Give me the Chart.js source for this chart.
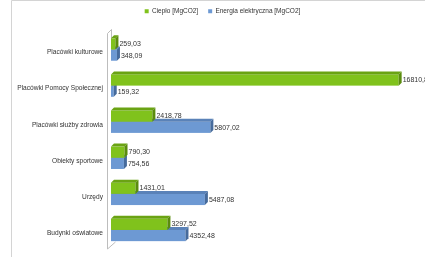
<!DOCTYPE html>
<html>
<head>
<meta charset="utf-8">
<script src="https://cdn.jsdelivr.net/npm/chart.js@4/dist/chart.umd.min.js"></script>
<style>
  html, body { margin: 0; padding: 0; background: #fff; }
  #wrap { width: 425px; height: 257px; position: relative; }
</style>
</head>
<body>
<div id="wrap"><canvas id="chart" width="425" height="257"></canvas></div>
<script>
const categories = ["Placówki kulturowe", "Placówki Pomocy Społecznej", "Placówki służby zdrowia", "Obiekty sportowe", "Urzędy", "Budynki oświatowe"];
const cieplo = [259.03, 16810.8, 2418.78, 790.30, 1431.01, 3297.52];
const energia = [348.09, 159.32, 5807.02, 754.56, 5487.08, 4352.48];
const cieploLabels = ["259,03", "16810,8", "2418,78", "790,30", "1431,01", "3297,52"];
const energiaLabels = ["348,09", "159,32", "5807,02", "754,56", "5487,08", "4352,48"];

const FONT = "Liberation Sans";
const DEPTH = 3;

// colours: front, top face, side face
const faces = [
  { front: "#80c21c", top: "#6aa313", side: "#5a8c0e" },
  { front: "#6d99d3", top: "#5a82b8", side: "#466b9c" }
];

function drawBar(ctx, el, c) {
  const top = el.y - el.height / 2;
  const bot = el.y + el.height / 2;
  const x0 = el.base, x1 = el.x;
  ctx.fillStyle = c.front;
  ctx.fillRect(x0, top, x1 - x0, bot - top);
  ctx.fillStyle = c.top;
  ctx.beginPath();
  ctx.moveTo(x0, top);
  ctx.lineTo(x0 + DEPTH, top - DEPTH);
  ctx.lineTo(x1 + DEPTH, top - DEPTH);
  ctx.lineTo(x1, top);
  ctx.closePath();
  ctx.fill();
  ctx.fillStyle = c.side;
  ctx.beginPath();
  ctx.moveTo(x1, top);
  ctx.lineTo(x1 + DEPTH, top - DEPTH);
  ctx.lineTo(x1 + DEPTH, bot - DEPTH);
  ctx.lineTo(x1, bot);
  ctx.closePath();
  ctx.fill();
}

const bars3d = {
  id: "bars3d",
  afterLayout(chart) {
    // nudge legend to match the original placement
    const lg = chart.legend;
    lg.left += 7; lg.right += 7;
    lg.top -= 7; lg.bottom -= 7;
  },
  beforeDraw(chart) {
    const ctx = chart.ctx;
    ctx.save();
    ctx.strokeStyle = "#d4d4d4";
    ctx.lineWidth = 1;
    ctx.beginPath();
    ctx.moveTo(11.5, 257);
    ctx.lineTo(11.5, 0.5);
    ctx.lineTo(425, 0.5);
    ctx.stroke();
    // wall
    const a = chart.chartArea;
    const lx = Math.round(a.left) - 3.5;
    ctx.strokeStyle = "#bdbdbd";
    ctx.beginPath();
    ctx.moveTo(lx + 4, a.top - 2);
    ctx.lineTo(lx, a.top + 2);
    ctx.lineTo(lx, a.bottom + 1);
    ctx.lineTo(lx + 8, a.bottom - 6);
    ctx.moveTo(lx + 4, a.top - 2);
    ctx.lineTo(lx + 4, a.top + 8);
    ctx.stroke();
    ctx.restore();
  },
  beforeDatasetDraw() {
    return false;
  },
  afterDatasetsDraw(chart) {
    const ctx = chart.ctx;
    const g = chart.getDatasetMeta(0).data;
    const b = chart.getDatasetMeta(1).data;
    ctx.save();
    for (let i = 0; i < categories.length; i++) {
      drawBar(ctx, b[i], faces[1]);
      drawBar(ctx, g[i], faces[0]);
    }
    ctx.fillStyle = "#333";
    ctx.font = "7px '" + FONT + "'";
    ctx.textBaseline = "middle";
    ctx.textAlign = "left";
    for (let i = 0; i < categories.length; i++) {
      ctx.fillText(cieploLabels[i], g[i].x + DEPTH + 1, g[i].y);
      ctx.fillText(energiaLabels[i], b[i].x + DEPTH + 1, b[i].y + 1);
    }
    ctx.restore();
  }
};

new Chart(document.getElementById("chart"), {
  type: "bar",
  data: {
    labels: categories,
    datasets: [
      { label: "Ciepło [MgCO2]", data: cieplo, backgroundColor: faces[0].front },
      { label: "Energia elektryczna [MgCO2]", data: energia, backgroundColor: faces[1].front }
    ]
  },
  options: {
    indexAxis: "y",
    responsive: false,
    animation: false,
    categoryPercentage: 0.62,
    barPercentage: 1,
    layout: { padding: { left: 12, right: 6, top: 5, bottom: 9 } },
    plugins: {
      legend: {
        position: "top",
        labels: {
          boxWidth: 4,
          boxHeight: 4,
          padding: 10,
          color: "#333",
          font: { family: FONT, size: 6.5 }
        }
      },
      tooltip: { enabled: false }
    },
    scales: {
      x: {
        min: 0,
        max: 18000,
        display: false,
        grid: { display: false }
      },
      y: {
        grid: { display: false },
        border: { display: false },
        afterFit(s) { s.width = 99; },
        ticks: {
          padding: 0,
          labelOffset: 3,
          color: "#333",
          font: { family: FONT, size: 6.6 }
        }
      }
    }
  },
  plugins: [bars3d]
});
</script>
</body>
</html>
